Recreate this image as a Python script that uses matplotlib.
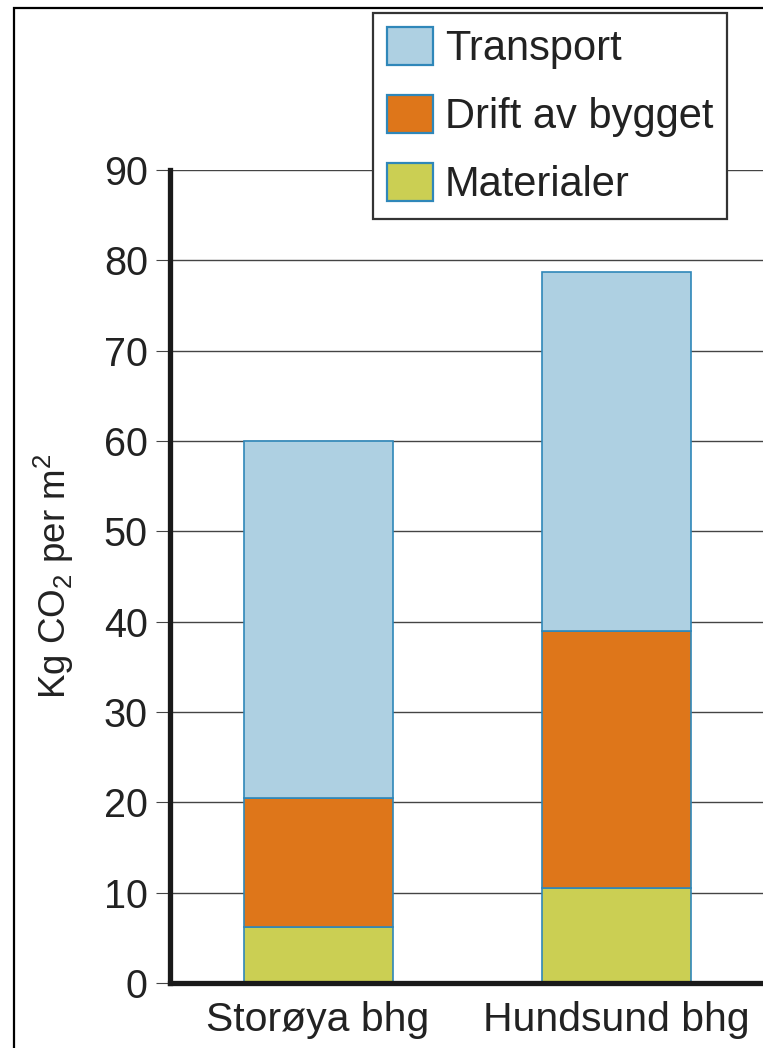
import matplotlib
matplotlib.use("Agg")
import matplotlib.pyplot as plt
from matplotlib.patches import Rectangle

categories = ["Storøya bhg", "Hundsund bhg"]
materialer = [6.2, 10.5]
drift = [14.3, 28.5]
transport = [39.5, 39.7]
yticks = [0, 10, 20, 30, 40, 50, 60, 70, 80, 90]

W, H = 763, 1048
DPI = 100

plt.rcParams["font.family"] = ["Liberation Sans", "DejaVu Sans"]
plt.rcParams["mathtext.fontset"] = "custom"
plt.rcParams["mathtext.rm"] = "Liberation Sans"

fig = plt.figure(figsize=(W / DPI, H / DPI), dpi=DPI)


def px(x0, y0, x1, y1):
    # pixel box (top-left origin) -> figure fraction [l, b, w, h]
    return [x0 / W, 1 - y1 / H, (x1 - x0) / W, (y1 - y0) / H]


ax = fig.add_axes(px(170, 170, 780, 983))

edge = "#2f87b9"
c_trans = "#aed0e2"
c_drift = "#de761a"
c_mat = "#cbcf53"

x = [0, 1]
bottom2 = [m + d for m, d in zip(materialer, drift)]
b_mat = ax.bar(x, materialer, width=0.5, color=c_mat, edgecolor=edge, linewidth=1.2, zorder=3)
b_drift = ax.bar(x, drift, width=0.5, bottom=materialer, color=c_drift, edgecolor=edge, linewidth=1.2, zorder=3)
b_trans = ax.bar(x, transport, width=0.5, bottom=bottom2, color=c_trans, edgecolor=edge, linewidth=1.2, zorder=3)

ax.set_ylim(0, 90)
ax.set_xlim(-0.497, 1.55)
ax.set_yticks(yticks)
ax.set_xticks(x)
ax.set_xticklabels(categories)

ax.yaxis.grid(True, color="#444444", linewidth=1.0, zorder=1)
ax.set_axisbelow(True)

for s in ("top", "right"):
    ax.spines[s].set_visible(False)
for s in ("left", "bottom"):
    ax.spines[s].set_linewidth(3.8)
    ax.spines[s].set_color("#1a1a1a")
    ax.spines[s].set_zorder(4)

ax.tick_params(axis="y", direction="out", length=10, width=0.8, color="#444444",
               labelsize=28.5, labelcolor="#222222", pad=6)
ax.tick_params(axis="x", length=0, labelsize=29.5, labelcolor="#222222", pad=13)

ax.set_ylabel(r"Kg CO$_2$ per m$^2$", fontsize=26.5, color="#222222", labelpad=20)

leg = fig.legend([b_trans, b_drift, b_mat], ["Transport", "Drift av bygget", "Materialer"],
                 loc="upper left", bbox_to_anchor=(373 / W, 1 - 13 / H),
                 bbox_transform=fig.transFigure, borderaxespad=0,
                 fontsize=30, frameon=True, fancybox=False, framealpha=1,
                 edgecolor="#333333", handlelength=1.1, handleheight=1.03,
                 handletextpad=0.3, labelspacing=0.62, borderpad=0.33)
leg.get_frame().set_linewidth(1.6)
for t in leg.get_texts():
    t.set_color("#222222")
for h in leg.legend_handles:
    h.set_linewidth(1.6)

# outer frame, cut off at right and bottom like the original
frame = Rectangle((14 / W, -0.1), 2, 1 - 8 / H + 0.1, transform=fig.transFigure,
                  fill=False, edgecolor="black", linewidth=1.6, clip_on=False)
fig.add_artist(frame)

fig.savefig("out.png", dpi=DPI)
